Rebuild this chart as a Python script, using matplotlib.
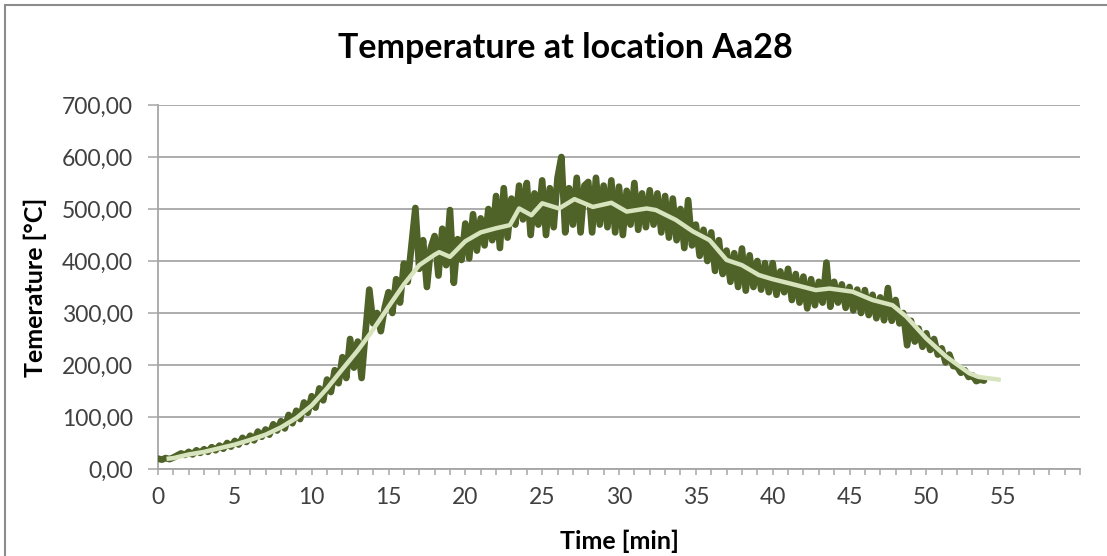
import numpy as np
import matplotlib
matplotlib.use("Agg")
import matplotlib.pyplot as plt
from matplotlib.patches import Rectangle
from matplotlib.ticker import FuncFormatter, MultipleLocator

# ---------------- data ----------------
title = "Temperature at location Aa28"
x_label = "Time [min]"
y_label = "Temerature [°C]"

raw_step_min = 0.25  # sampling interval of the raw series
raw_temp = [
    20, 18, 21, 19,   22, 26, 30, 27,   33, 28, 36, 31,   38, 33, 42, 36,
    45, 39, 50, 43,   54, 47, 60, 52,   64, 55, 72, 62,   76, 66, 86, 74,
    92, 78, 104, 88,   112, 96, 128, 108,   140, 118, 155, 132,   172, 148, 190, 165,
    215, 175, 250, 195,   245, 175, 262, 345,   280, 300, 265, 310,   340, 300, 365, 320,
    395, 360, 430, 502,   385, 440, 350, 425,   448, 372, 462, 392,   498, 358, 442, 402,
    472, 405, 490, 420,   482, 430, 500, 440,   525, 425, 540, 445,   520, 470, 545, 480,
    550, 450, 530, 470,   555, 450, 540, 465,   560, 600, 455, 540,   470, 560, 455, 545,
    552, 455, 560, 470,   545, 465, 555, 455,   543, 450, 535, 470,   550, 460, 530, 465,
    536, 470, 530, 455,   525, 445, 520, 440,   500, 425, 517, 430,   470, 410, 460, 400,
    455, 381, 440, 375,   420, 360, 415, 350,   424, 343, 411, 350,   400, 345, 396, 340,
    396, 335, 380, 340,   385, 325, 375, 320,   370, 309, 365, 315,   360, 320, 397, 312,
    360, 320, 355, 310,   350, 305, 345, 300,   344, 296, 335, 290,   330, 286, 348, 285,
    325, 280, 300, 238,   285, 245, 270, 235,   261, 229, 250, 220,   232, 205, 220, 198,
    197, 185, 190, 177,   180, 169, 172, 170,
]

smooth_time = [0.7, 1, 2, 3, 4, 5, 6, 7, 8, 9, 10, 11, 12, 13, 14, 15, 16, 17, 18,
               18.3, 19, 20, 21, 22, 22.9, 23.5, 24.3, 25, 26.1, 27.1, 28.3, 29.5,
               30.5, 31.8, 32.4, 33.7, 34.8, 35.9, 37, 38, 39.1, 40, 41.1, 42.8,
               43.7, 45.2, 46.5, 47.8, 48.7, 50, 51.3, 52.8, 53.4, 54.7]
smooth_temp = [20, 21, 28, 33, 40, 47, 56, 66, 80, 98, 122, 155, 192, 228, 268, 312,
               355, 392, 412, 417, 408, 438, 455, 463, 469, 501, 488, 511, 501, 519,
               504, 512, 495, 501, 498, 479, 457, 440, 402, 392, 373, 365, 357, 344,
               347, 341, 325, 315, 293, 251, 216, 184, 177, 172]

x_tick_labels = [0, 5, 10, 15, 20, 25, 30, 35, 40, 45, 50, 55]
y_ticks = [0, 100, 200, 300, 400, 500, 600, 700]

# ---------------- figure ----------------
W, H, DPI = 1107, 556, 100
fig = plt.figure(figsize=(W / DPI, H / DPI), dpi=DPI)
plt.rcParams['font.family'] = ['Lato', 'DejaVu Sans']

ax = fig.add_axes([158 / W, 1 - 469 / H, (1080 - 158) / W, (469 - 105) / H])

raw_time = np.arange(len(raw_temp)) * raw_step_min
ax.plot(raw_time, raw_temp, color='#4f6228', lw=4.8, solid_joinstyle='round',
        solid_capstyle='round', zorder=3)
ax.plot(smooth_time, smooth_temp, color='#d7e4bd', lw=3.2, solid_joinstyle='round',
        zorder=4)

ax.set_xlim(0, 60)
ax.set_ylim(0, 700)
ax.set_yticks(y_ticks)
ax.yaxis.set_major_formatter(FuncFormatter(lambda v, p: f"{v:.2f}".replace('.', ',')))
ax.set_xticks(x_tick_labels)
ax.set_xticklabels([str(v) for v in x_tick_labels])
ax.xaxis.set_minor_locator(MultipleLocator(1))

grid_c = '#a6a6a6'
ax.grid(axis='y', color=grid_c, lw=1.3, zorder=0)
ax.set_axisbelow(True)
for s in ['top', 'right']:
    ax.spines[s].set_visible(False)
for s in ['left', 'bottom']:
    ax.spines[s].set_color(grid_c)
    ax.spines[s].set_linewidth(1.3)

ax.tick_params(axis='x', which='both', direction='out', length=4, width=1.1,
               color=grid_c, labelsize=16.5, labelcolor='#404040', pad=9)
ax.tick_params(axis='y', which='both', direction='out', length=7, width=1.1,
               color=grid_c, labelsize=16.5, labelcolor='#404040', pad=11)

fig.text(619 / W, 1 - 541 / H, x_label, ha='center', va='center',
         fontsize=18, fontweight='bold')
fig.text(35 / W, 1 - 287 / H, y_label, ha='center', va='center', rotation=90,
         fontsize=18, fontweight='bold')

fig.text(565 / W, 1 - 58 / H, title, ha='center', va='baseline',
         fontsize=24.5, fontweight='bold')

# chart border
fig.add_artist(Rectangle((5 / W, -0.1), 1.2, 1.1 - 5 / H, transform=fig.transFigure,
                         fill=False, edgecolor='#8c8c8c', lw=1.5))

fig.savefig('out.png', dpi=DPI)
